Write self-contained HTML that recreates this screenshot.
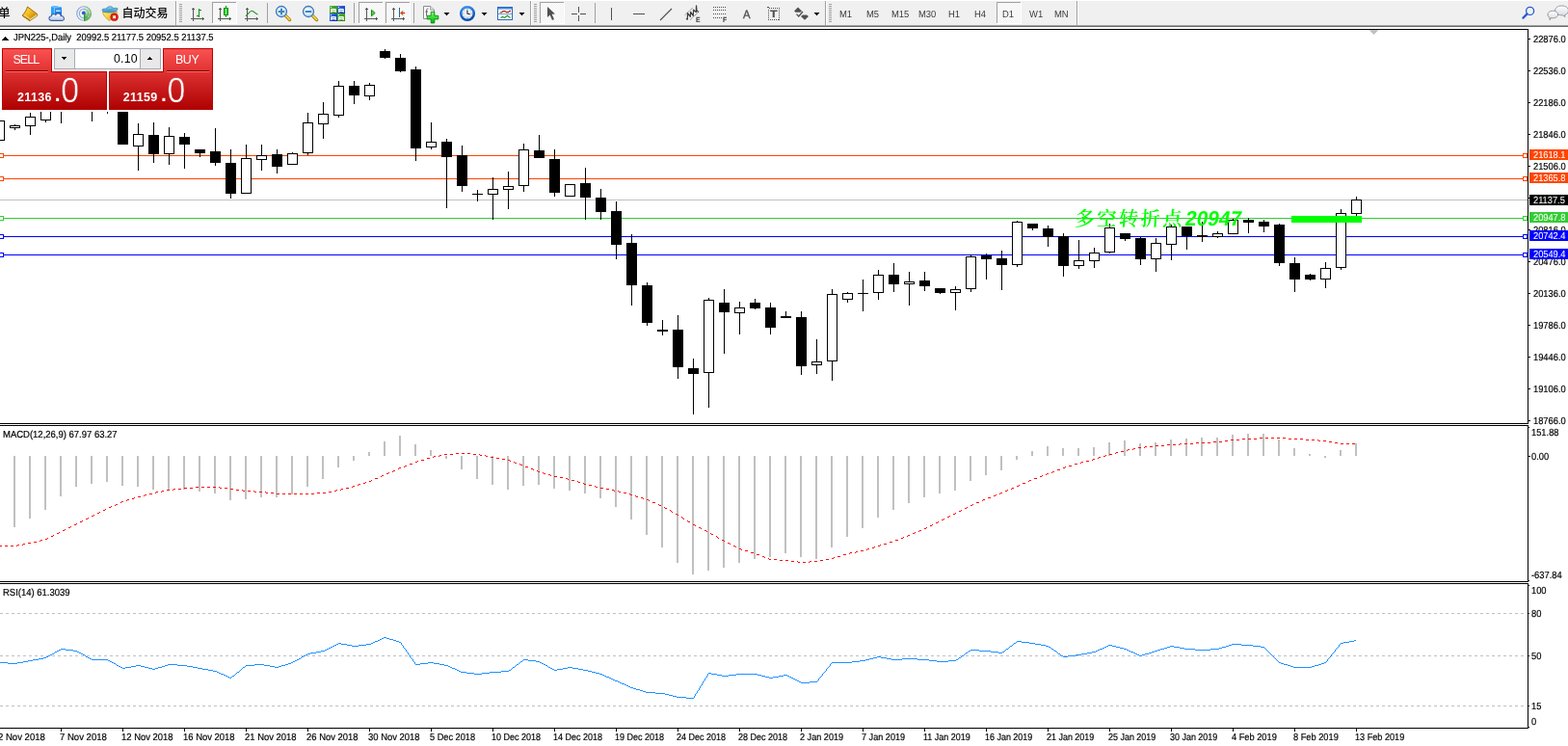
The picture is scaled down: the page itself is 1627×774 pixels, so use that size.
<!DOCTYPE html>
<html lang="zh-CN">
<head>
<meta charset="utf-8">
<title>JPN225-,Daily</title>
<style>
html,body{margin:0;padding:0;background:#fff;overflow:hidden;}
body{width:1627px;height:774px;position:relative;overflow:hidden;font-family:"Liberation Sans","Noto Sans CJK SC",sans-serif;font-size:9.3px;color:#000;}
.chart{position:absolute;left:0;top:0;}
.ax{position:absolute;white-space:nowrap;line-height:11px;font-size:10.2px;text-rendering:geometricPrecision;transform:scaleX(0.915);transform-origin:0 0;-webkit-text-stroke-width:0.2px;}
.ax.dt{transform:scaleX(0.898);}
.ax.t1{transform:scaleX(0.922);}
.ax.t2{transform:scaleX(0.931);}
.pl{position:absolute;left:1587px;width:40px;height:11px;overflow:hidden;}
.pl span{position:absolute;left:4px;top:1px;line-height:11px;font-size:10.2px;color:#fff;white-space:nowrap;text-rendering:geometricPrecision;transform:scaleX(0.91);transform-origin:0 0;-webkit-text-stroke-width:0.05px;}
.note{position:absolute;white-space:nowrap;font-family:"Liberation Sans","Noto Serif CJK SC",serif;font-weight:bold;font-style:italic;font-size:21.5px;line-height:24px;color:#00ff00;}
.note .nc{font-weight:600;font-size:20.4px;letter-spacing:2.35px;font-style:normal;display:inline-block;transform:skewX(-3deg);transform-origin:0 80%;}
.note .nd{font-weight:bold;font-style:normal;display:inline-block;transform:skewX(-10deg) scaleX(0.97);transform-origin:0 80%;margin-left:-0.2px;}
#toolbar{position:absolute;left:0;top:0;width:1627px;height:30px;background:#fff;}
#toolbar .bg{position:absolute;left:0;top:1px;width:1627px;height:25px;background:#f0f0f0;}
#toolbar .l1{position:absolute;left:0;top:26px;width:1627px;height:1px;background:#a0a0a0;}
#toolbar .l2{position:absolute;left:0;top:27px;width:1627px;height:1px;background:#696969;}
#toolbar svg{position:absolute;left:0;top:0;}
.tb{position:absolute;white-space:nowrap;color:#3c3c3c;font-size:10.2px;line-height:11px;top:10px;text-rendering:geometricPrecision;transform:scaleX(0.925);transform-origin:0 0;}
.cn{position:absolute;white-space:nowrap;color:#000;font-size:12px;line-height:14px;top:6.5px;font-weight:500;font-family:"Liberation Sans","Noto Sans CJK SC",sans-serif;}

#panel{position:absolute;left:0;top:0;width:224px;height:118px;}
#panel .pbg{position:absolute;left:0;top:46px;width:222px;height:70px;background:#fff;}
.pt{position:absolute;color:#fff;font-size:12.4px;line-height:14px;letter-spacing:-0.9px;white-space:nowrap;}
.pv{position:absolute;color:#000;font-size:12.3px;line-height:14px;text-align:right;white-space:nowrap;letter-spacing:0.25px;}
.ps{position:absolute;color:#fff;font-size:12.4px;font-weight:bold;line-height:14px;white-space:nowrap;letter-spacing:0.45px;}
.pb{position:absolute;color:#fff;font-size:35.5px;line-height:38px;white-space:nowrap;transform:scaleX(0.93);transform-origin:0 0;text-rendering:geometricPrecision;}
.pd{position:absolute;color:#fff;font-size:30px;line-height:32px;white-space:nowrap;}

</style>
</head>
<body>
<svg class="chart" width="1627" height="774" viewBox="0 0 1627 774" shape-rendering="crispEdges">
<defs><clipPath id="cpMain"><rect x="0" y="31" width="1585" height="408"/></clipPath><clipPath id="cpMacd"><rect x="0" y="442" width="1585" height="161"/></clipPath><clipPath id="cpRsi"><rect x="0" y="606" width="1585" height="149"/></clipPath></defs>
<g clip-path="url(#cpMain)">
<rect x="0" y="207" width="1585" height="1" fill="#c0c0c0"/>
<rect x="0" y="161" width="1585" height="1" fill="#ff4500"/>
<rect x="-0.5" y="159.5" width="4" height="4" fill="#fff" stroke="#ff4500" stroke-width="1"/>
<rect x="1580.5" y="159.5" width="4" height="4" fill="#fff" stroke="#ff4500" stroke-width="1"/>
<rect x="0" y="185" width="1585" height="1" fill="#ff4500"/>
<rect x="-0.5" y="183.5" width="4" height="4" fill="#fff" stroke="#ff4500" stroke-width="1"/>
<rect x="1580.5" y="183.5" width="4" height="4" fill="#fff" stroke="#ff4500" stroke-width="1"/>
<rect x="0" y="226" width="1585" height="1" fill="#32cd32"/>
<rect x="-0.5" y="224.5" width="4" height="4" fill="#fff" stroke="#32cd32" stroke-width="1"/>
<rect x="1580.5" y="224.5" width="4" height="4" fill="#fff" stroke="#32cd32" stroke-width="1"/>
<rect x="0" y="245" width="1585" height="1" fill="#0000ff"/>
<rect x="-0.5" y="243.5" width="4" height="4" fill="#fff" stroke="#0000ff" stroke-width="1"/>
<rect x="1580.5" y="243.5" width="4" height="4" fill="#fff" stroke="#0000ff" stroke-width="1"/>
<rect x="0" y="264" width="1585" height="1" fill="#0000ff"/>
<rect x="-0.5" y="262.5" width="4" height="4" fill="#fff" stroke="#0000ff" stroke-width="1"/>
<rect x="1580.5" y="262.5" width="4" height="4" fill="#fff" stroke="#0000ff" stroke-width="1"/>
<rect x="-1" y="125" width="1" height="21" fill="#000"/>
<rect x="-6" y="125" width="11" height="21" fill="#000"/>
<rect x="-5" y="126" width="9" height="19" fill="#fff"/>
<rect x="15" y="129" width="1" height="6" fill="#000"/>
<rect x="10" y="130" width="11" height="3" fill="#000"/>
<rect x="11" y="131" width="9" height="1" fill="#fff"/>
<rect x="31" y="117" width="1" height="23" fill="#000"/>
<rect x="26" y="121" width="11" height="10" fill="#000"/>
<rect x="27" y="122" width="9" height="8" fill="#fff"/>
<rect x="47" y="100" width="1" height="27" fill="#000"/>
<rect x="42" y="100" width="11" height="25" fill="#000"/>
<rect x="43" y="101" width="9" height="23" fill="#fff"/>
<rect x="63" y="100" width="1" height="28" fill="#000"/>
<rect x="95" y="100" width="1" height="26" fill="#000"/>
<rect x="111" y="100" width="1" height="18" fill="#000"/>
<rect x="127" y="100" width="1" height="50" fill="#000"/>
<rect x="122" y="100" width="11" height="50" fill="#000"/>
<rect x="143" y="128" width="1" height="49" fill="#000"/>
<rect x="138" y="139" width="11" height="13" fill="#000"/>
<rect x="139" y="140" width="9" height="11" fill="#fff"/>
<rect x="159" y="127" width="1" height="42" fill="#000"/>
<rect x="154" y="140" width="11" height="20" fill="#000"/>
<rect x="175" y="132" width="1" height="39" fill="#000"/>
<rect x="170" y="141" width="11" height="19" fill="#000"/>
<rect x="171" y="142" width="9" height="17" fill="#fff"/>
<rect x="191" y="138" width="1" height="37" fill="#000"/>
<rect x="186" y="142" width="11" height="8" fill="#000"/>
<rect x="207" y="155" width="1" height="8" fill="#000"/>
<rect x="202" y="155" width="11" height="4" fill="#000"/>
<rect x="223" y="133" width="1" height="39" fill="#000"/>
<rect x="218" y="157" width="11" height="12" fill="#000"/>
<rect x="239" y="155" width="1" height="51" fill="#000"/>
<rect x="234" y="169" width="11" height="32" fill="#000"/>
<rect x="255" y="150" width="1" height="51" fill="#000"/>
<rect x="250" y="164" width="11" height="37" fill="#000"/>
<rect x="251" y="165" width="9" height="35" fill="#fff"/>
<rect x="271" y="150" width="1" height="27" fill="#000"/>
<rect x="266" y="161" width="11" height="5" fill="#000"/>
<rect x="267" y="162" width="9" height="3" fill="#fff"/>
<rect x="287" y="155" width="1" height="25" fill="#000"/>
<rect x="282" y="160" width="11" height="13" fill="#000"/>
<rect x="303" y="158" width="1" height="12" fill="#000"/>
<rect x="298" y="159" width="11" height="12" fill="#000"/>
<rect x="299" y="160" width="9" height="10" fill="#fff"/>
<rect x="319" y="117" width="1" height="44" fill="#000"/>
<rect x="314" y="127" width="11" height="32" fill="#000"/>
<rect x="315" y="128" width="9" height="30" fill="#fff"/>
<rect x="335" y="106" width="1" height="38" fill="#000"/>
<rect x="330" y="118" width="11" height="11" fill="#000"/>
<rect x="331" y="119" width="9" height="9" fill="#fff"/>
<rect x="351" y="84" width="1" height="38" fill="#000"/>
<rect x="346" y="89" width="11" height="31" fill="#000"/>
<rect x="347" y="90" width="9" height="29" fill="#fff"/>
<rect x="367" y="84" width="1" height="24" fill="#000"/>
<rect x="362" y="89" width="11" height="10" fill="#000"/>
<rect x="383" y="86" width="1" height="18" fill="#000"/>
<rect x="378" y="88" width="11" height="12" fill="#000"/>
<rect x="379" y="89" width="9" height="10" fill="#fff"/>
<rect x="399" y="51" width="1" height="10" fill="#000"/>
<rect x="394" y="53" width="11" height="7" fill="#000"/>
<rect x="415" y="56" width="1" height="19" fill="#000"/>
<rect x="410" y="60" width="11" height="14" fill="#000"/>
<rect x="431" y="69" width="1" height="98" fill="#000"/>
<rect x="426" y="72" width="11" height="82" fill="#000"/>
<rect x="447" y="127" width="1" height="28" fill="#000"/>
<rect x="442" y="147" width="11" height="6" fill="#000"/>
<rect x="443" y="148" width="9" height="4" fill="#fff"/>
<rect x="463" y="144" width="1" height="72" fill="#000"/>
<rect x="458" y="147" width="11" height="16" fill="#000"/>
<rect x="479" y="151" width="1" height="48" fill="#000"/>
<rect x="474" y="161" width="11" height="32" fill="#000"/>
<rect x="495" y="197" width="1" height="12" fill="#000"/>
<rect x="490" y="201" width="11" height="1" fill="#000"/>
<rect x="511" y="184" width="1" height="44" fill="#000"/>
<rect x="506" y="196" width="11" height="6" fill="#000"/>
<rect x="507" y="197" width="9" height="4" fill="#fff"/>
<rect x="527" y="178" width="1" height="39" fill="#000"/>
<rect x="522" y="193" width="11" height="4" fill="#000"/>
<rect x="523" y="194" width="9" height="2" fill="#fff"/>
<rect x="543" y="149" width="1" height="50" fill="#000"/>
<rect x="538" y="155" width="11" height="38" fill="#000"/>
<rect x="539" y="156" width="9" height="36" fill="#fff"/>
<rect x="559" y="140" width="1" height="24" fill="#000"/>
<rect x="554" y="156" width="11" height="8" fill="#000"/>
<rect x="575" y="155" width="1" height="49" fill="#000"/>
<rect x="570" y="165" width="11" height="35" fill="#000"/>
<rect x="591" y="191" width="1" height="13" fill="#000"/>
<rect x="586" y="191" width="11" height="13" fill="#000"/>
<rect x="587" y="192" width="9" height="11" fill="#fff"/>
<rect x="607" y="174" width="1" height="54" fill="#000"/>
<rect x="602" y="190" width="11" height="15" fill="#000"/>
<rect x="623" y="196" width="1" height="32" fill="#000"/>
<rect x="618" y="205" width="11" height="15" fill="#000"/>
<rect x="639" y="209" width="1" height="60" fill="#000"/>
<rect x="634" y="219" width="11" height="35" fill="#000"/>
<rect x="655" y="243" width="1" height="74" fill="#000"/>
<rect x="650" y="252" width="11" height="44" fill="#000"/>
<rect x="671" y="293" width="1" height="45" fill="#000"/>
<rect x="666" y="296" width="11" height="39" fill="#000"/>
<rect x="687" y="332" width="1" height="16" fill="#000"/>
<rect x="682" y="342" width="11" height="2" fill="#000"/>
<rect x="703" y="327" width="1" height="66" fill="#000"/>
<rect x="698" y="342" width="11" height="39" fill="#000"/>
<rect x="719" y="372" width="1" height="58" fill="#000"/>
<rect x="714" y="382" width="11" height="6" fill="#000"/>
<rect x="735" y="309" width="1" height="114" fill="#000"/>
<rect x="730" y="311" width="11" height="76" fill="#000"/>
<rect x="731" y="312" width="9" height="74" fill="#fff"/>
<rect x="751" y="300" width="1" height="67" fill="#000"/>
<rect x="746" y="314" width="11" height="10" fill="#000"/>
<rect x="767" y="313" width="1" height="34" fill="#000"/>
<rect x="762" y="319" width="11" height="6" fill="#000"/>
<rect x="763" y="320" width="9" height="4" fill="#fff"/>
<rect x="783" y="310" width="1" height="11" fill="#000"/>
<rect x="778" y="314" width="11" height="6" fill="#000"/>
<rect x="799" y="314" width="1" height="33" fill="#000"/>
<rect x="794" y="319" width="11" height="21" fill="#000"/>
<rect x="815" y="323" width="1" height="7" fill="#000"/>
<rect x="810" y="328" width="11" height="2" fill="#000"/>
<rect x="831" y="323" width="1" height="66" fill="#000"/>
<rect x="826" y="329" width="11" height="51" fill="#000"/>
<rect x="847" y="352" width="1" height="36" fill="#000"/>
<rect x="842" y="375" width="11" height="4" fill="#000"/>
<rect x="843" y="376" width="9" height="2" fill="#fff"/>
<rect x="863" y="300" width="1" height="95" fill="#000"/>
<rect x="858" y="305" width="11" height="70" fill="#000"/>
<rect x="859" y="306" width="9" height="68" fill="#fff"/>
<rect x="879" y="303" width="1" height="11" fill="#000"/>
<rect x="874" y="304" width="11" height="7" fill="#000"/>
<rect x="875" y="305" width="9" height="5" fill="#fff"/>
<rect x="895" y="290" width="1" height="33" fill="#000"/>
<rect x="890" y="304" width="11" height="1" fill="#000"/>
<rect x="911" y="280" width="1" height="31" fill="#000"/>
<rect x="906" y="285" width="11" height="19" fill="#000"/>
<rect x="907" y="286" width="9" height="17" fill="#fff"/>
<rect x="927" y="273" width="1" height="30" fill="#000"/>
<rect x="922" y="285" width="11" height="10" fill="#000"/>
<rect x="943" y="282" width="1" height="35" fill="#000"/>
<rect x="938" y="292" width="11" height="3" fill="#000"/>
<rect x="939" y="293" width="9" height="1" fill="#fff"/>
<rect x="959" y="282" width="1" height="20" fill="#000"/>
<rect x="954" y="291" width="11" height="6" fill="#000"/>
<rect x="975" y="299" width="1" height="6" fill="#000"/>
<rect x="970" y="299" width="11" height="5" fill="#000"/>
<rect x="991" y="297" width="1" height="25" fill="#000"/>
<rect x="986" y="300" width="11" height="4" fill="#000"/>
<rect x="987" y="301" width="9" height="2" fill="#fff"/>
<rect x="1007" y="264" width="1" height="39" fill="#000"/>
<rect x="1002" y="266" width="11" height="34" fill="#000"/>
<rect x="1003" y="267" width="9" height="32" fill="#fff"/>
<rect x="1023" y="263" width="1" height="27" fill="#000"/>
<rect x="1018" y="265" width="11" height="4" fill="#000"/>
<rect x="1039" y="260" width="1" height="41" fill="#000"/>
<rect x="1034" y="268" width="11" height="7" fill="#000"/>
<rect x="1055" y="229" width="1" height="48" fill="#000"/>
<rect x="1050" y="230" width="11" height="45" fill="#000"/>
<rect x="1051" y="231" width="9" height="43" fill="#fff"/>
<rect x="1071" y="232" width="1" height="7" fill="#000"/>
<rect x="1066" y="232" width="11" height="5" fill="#000"/>
<rect x="1087" y="234" width="1" height="22" fill="#000"/>
<rect x="1082" y="237" width="11" height="9" fill="#000"/>
<rect x="1103" y="242" width="1" height="45" fill="#000"/>
<rect x="1098" y="245" width="11" height="31" fill="#000"/>
<rect x="1119" y="249" width="1" height="30" fill="#000"/>
<rect x="1114" y="270" width="11" height="6" fill="#000"/>
<rect x="1115" y="271" width="9" height="4" fill="#fff"/>
<rect x="1135" y="257" width="1" height="21" fill="#000"/>
<rect x="1130" y="262" width="11" height="9" fill="#000"/>
<rect x="1131" y="263" width="9" height="7" fill="#fff"/>
<rect x="1151" y="232" width="1" height="31" fill="#000"/>
<rect x="1146" y="236" width="11" height="26" fill="#000"/>
<rect x="1147" y="237" width="9" height="24" fill="#fff"/>
<rect x="1167" y="242" width="1" height="8" fill="#000"/>
<rect x="1162" y="242" width="11" height="6" fill="#000"/>
<rect x="1183" y="246" width="1" height="29" fill="#000"/>
<rect x="1178" y="247" width="11" height="22" fill="#000"/>
<rect x="1199" y="247" width="1" height="35" fill="#000"/>
<rect x="1194" y="252" width="11" height="17" fill="#000"/>
<rect x="1195" y="253" width="9" height="15" fill="#fff"/>
<rect x="1215" y="233" width="1" height="37" fill="#000"/>
<rect x="1210" y="235" width="11" height="19" fill="#000"/>
<rect x="1211" y="236" width="9" height="17" fill="#fff"/>
<rect x="1231" y="235" width="1" height="24" fill="#000"/>
<rect x="1226" y="235" width="11" height="10" fill="#000"/>
<rect x="1247" y="230" width="1" height="21" fill="#000"/>
<rect x="1242" y="244" width="11" height="2" fill="#000"/>
<rect x="1263" y="240" width="1" height="7" fill="#000"/>
<rect x="1258" y="242" width="11" height="4" fill="#000"/>
<rect x="1259" y="243" width="9" height="2" fill="#fff"/>
<rect x="1279" y="227" width="1" height="15" fill="#000"/>
<rect x="1274" y="228" width="11" height="15" fill="#000"/>
<rect x="1275" y="229" width="9" height="13" fill="#fff"/>
<rect x="1295" y="226" width="1" height="16" fill="#000"/>
<rect x="1290" y="228" width="11" height="3" fill="#000"/>
<rect x="1311" y="228" width="1" height="13" fill="#000"/>
<rect x="1306" y="230" width="11" height="5" fill="#000"/>
<rect x="1327" y="232" width="1" height="44" fill="#000"/>
<rect x="1322" y="233" width="11" height="40" fill="#000"/>
<rect x="1343" y="267" width="1" height="36" fill="#000"/>
<rect x="1338" y="273" width="11" height="17" fill="#000"/>
<rect x="1359" y="284" width="1" height="7" fill="#000"/>
<rect x="1354" y="285" width="11" height="5" fill="#000"/>
<rect x="1375" y="272" width="1" height="27" fill="#000"/>
<rect x="1370" y="278" width="11" height="12" fill="#000"/>
<rect x="1371" y="279" width="9" height="10" fill="#fff"/>
<rect x="1391" y="217" width="1" height="63" fill="#000"/>
<rect x="1386" y="221" width="11" height="57" fill="#000"/>
<rect x="1387" y="222" width="9" height="55" fill="#fff"/>
<rect x="1407" y="204" width="1" height="20" fill="#000"/>
<rect x="1402" y="207" width="11" height="15" fill="#000"/>
<rect x="1403" y="208" width="9" height="13" fill="#fff"/>
<rect x="1340" y="224" width="73" height="7" fill="#00ff00"/>
<path d="M1420.5 31 L1430.5 31 L1425.5 36 Z" fill="#c0c0c0" shape-rendering="auto"/>
</g>
<g clip-path="url(#cpMacd)">
<rect x="14" y="473" width="2" height="74" fill="#c0c0c0"/>
<rect x="30" y="473" width="2" height="65" fill="#c0c0c0"/>
<rect x="46" y="473" width="2" height="56" fill="#c0c0c0"/>
<rect x="62" y="473" width="2" height="42" fill="#c0c0c0"/>
<rect x="78" y="473" width="2" height="32" fill="#c0c0c0"/>
<rect x="94" y="473" width="2" height="29" fill="#c0c0c0"/>
<rect x="110" y="473" width="2" height="27" fill="#c0c0c0"/>
<rect x="126" y="473" width="2" height="31" fill="#c0c0c0"/>
<rect x="142" y="473" width="2" height="32" fill="#c0c0c0"/>
<rect x="158" y="473" width="2" height="35" fill="#c0c0c0"/>
<rect x="174" y="473" width="2" height="35" fill="#c0c0c0"/>
<rect x="190" y="473" width="2" height="35" fill="#c0c0c0"/>
<rect x="206" y="473" width="2" height="37" fill="#c0c0c0"/>
<rect x="222" y="473" width="2" height="39" fill="#c0c0c0"/>
<rect x="238" y="473" width="2" height="46" fill="#c0c0c0"/>
<rect x="254" y="473" width="2" height="45" fill="#c0c0c0"/>
<rect x="270" y="473" width="2" height="43" fill="#c0c0c0"/>
<rect x="286" y="473" width="2" height="43" fill="#c0c0c0"/>
<rect x="302" y="473" width="2" height="40" fill="#c0c0c0"/>
<rect x="318" y="473" width="2" height="32" fill="#c0c0c0"/>
<rect x="334" y="473" width="2" height="24" fill="#c0c0c0"/>
<rect x="350" y="473" width="2" height="12" fill="#c0c0c0"/>
<rect x="366" y="473" width="2" height="5" fill="#c0c0c0"/>
<rect x="382" y="469" width="2" height="4" fill="#c0c0c0"/>
<rect x="398" y="458" width="2" height="15" fill="#c0c0c0"/>
<rect x="414" y="452" width="2" height="21" fill="#c0c0c0"/>
<rect x="430" y="461" width="2" height="12" fill="#c0c0c0"/>
<rect x="446" y="467" width="2" height="6" fill="#c0c0c0"/>
<rect x="462" y="473" width="2" height="3" fill="#c0c0c0"/>
<rect x="478" y="473" width="2" height="14" fill="#c0c0c0"/>
<rect x="494" y="473" width="2" height="24" fill="#c0c0c0"/>
<rect x="510" y="473" width="2" height="30" fill="#c0c0c0"/>
<rect x="526" y="473" width="2" height="35" fill="#c0c0c0"/>
<rect x="542" y="473" width="2" height="31" fill="#c0c0c0"/>
<rect x="558" y="473" width="2" height="30" fill="#c0c0c0"/>
<rect x="574" y="473" width="2" height="34" fill="#c0c0c0"/>
<rect x="590" y="473" width="2" height="36" fill="#c0c0c0"/>
<rect x="606" y="473" width="2" height="39" fill="#c0c0c0"/>
<rect x="622" y="473" width="2" height="44" fill="#c0c0c0"/>
<rect x="638" y="473" width="2" height="53" fill="#c0c0c0"/>
<rect x="654" y="473" width="2" height="66" fill="#c0c0c0"/>
<rect x="670" y="473" width="2" height="82" fill="#c0c0c0"/>
<rect x="686" y="473" width="2" height="95" fill="#c0c0c0"/>
<rect x="702" y="473" width="2" height="111" fill="#c0c0c0"/>
<rect x="718" y="473" width="2" height="123" fill="#c0c0c0"/>
<rect x="734" y="473" width="2" height="119" fill="#c0c0c0"/>
<rect x="750" y="473" width="2" height="116" fill="#c0c0c0"/>
<rect x="766" y="473" width="2" height="111" fill="#c0c0c0"/>
<rect x="782" y="473" width="2" height="107" fill="#c0c0c0"/>
<rect x="798" y="473" width="2" height="105" fill="#c0c0c0"/>
<rect x="814" y="473" width="2" height="101" fill="#c0c0c0"/>
<rect x="830" y="473" width="2" height="105" fill="#c0c0c0"/>
<rect x="846" y="473" width="2" height="107" fill="#c0c0c0"/>
<rect x="862" y="473" width="2" height="95" fill="#c0c0c0"/>
<rect x="878" y="473" width="2" height="84" fill="#c0c0c0"/>
<rect x="894" y="473" width="2" height="75" fill="#c0c0c0"/>
<rect x="910" y="473" width="2" height="64" fill="#c0c0c0"/>
<rect x="926" y="473" width="2" height="56" fill="#c0c0c0"/>
<rect x="942" y="473" width="2" height="49" fill="#c0c0c0"/>
<rect x="958" y="473" width="2" height="43" fill="#c0c0c0"/>
<rect x="974" y="473" width="2" height="39" fill="#c0c0c0"/>
<rect x="990" y="473" width="2" height="36" fill="#c0c0c0"/>
<rect x="1006" y="473" width="2" height="26" fill="#c0c0c0"/>
<rect x="1022" y="473" width="2" height="20" fill="#c0c0c0"/>
<rect x="1038" y="473" width="2" height="15" fill="#c0c0c0"/>
<rect x="1054" y="473" width="2" height="4" fill="#c0c0c0"/>
<rect x="1070" y="468" width="2" height="5" fill="#c0c0c0"/>
<rect x="1086" y="463" width="2" height="10" fill="#c0c0c0"/>
<rect x="1102" y="465" width="2" height="8" fill="#c0c0c0"/>
<rect x="1118" y="465" width="2" height="8" fill="#c0c0c0"/>
<rect x="1134" y="464" width="2" height="9" fill="#c0c0c0"/>
<rect x="1150" y="459" width="2" height="14" fill="#c0c0c0"/>
<rect x="1166" y="457" width="2" height="16" fill="#c0c0c0"/>
<rect x="1182" y="460" width="2" height="13" fill="#c0c0c0"/>
<rect x="1198" y="459" width="2" height="14" fill="#c0c0c0"/>
<rect x="1214" y="456" width="2" height="17" fill="#c0c0c0"/>
<rect x="1230" y="455" width="2" height="18" fill="#c0c0c0"/>
<rect x="1246" y="454" width="2" height="19" fill="#c0c0c0"/>
<rect x="1262" y="454" width="2" height="19" fill="#c0c0c0"/>
<rect x="1278" y="451" width="2" height="22" fill="#c0c0c0"/>
<rect x="1294" y="450" width="2" height="23" fill="#c0c0c0"/>
<rect x="1310" y="450" width="2" height="23" fill="#c0c0c0"/>
<rect x="1326" y="456" width="2" height="17" fill="#c0c0c0"/>
<rect x="1342" y="465" width="2" height="8" fill="#c0c0c0"/>
<rect x="1358" y="471" width="2" height="2" fill="#c0c0c0"/>
<rect x="1374" y="473" width="2" height="2" fill="#c0c0c0"/>
<rect x="1390" y="467" width="2" height="6" fill="#c0c0c0"/>
<rect x="1406" y="460" width="2" height="13" fill="#c0c0c0"/>
<path d="M1307 454h3v1h-3zM1313 454h3v1h-3zM1319 454h3v1h-3zM1325 454h3v1h-3zM1331 454h3v1h-3zM1289 455h3v1h-3zM1295 455h3v1h-3zM1301 455h3v1h-3zM1337 455h3v1h-3zM1343 455h3v1h-3zM1349 455h3v1h-3zM1277 456h3v1h-3zM1283 456h3v1h-3zM1355 456h3v1h-3zM1361 456h3v1h-3zM1367 456h1v1h-1zM1271 457h3v1h-3zM1368 457h2v1h-2zM1373 457h3v1h-3zM1259 458h3v1h-3zM1265 458h3v1h-3zM1379 458h3v1h-3zM1241 459h3v1h-3zM1247 459h3v1h-3zM1253 459h3v1h-3zM1385 459h3v1h-3zM1224 460h2v1h-2zM1229 460h3v1h-3zM1235 460h3v1h-3zM1391 460h3v1h-3zM1397 460h3v1h-3zM1403 460h3v1h-3zM1211 461h3v1h-3zM1217 461h3v1h-3zM1223 461h1v1h-1zM1199 462h3v1h-3zM1205 462h3v1h-3zM1188 463h2v1h-2zM1193 463h3v1h-3zM1181 464h3v1h-3zM1187 464h1v1h-1zM1176 465h2v1h-2zM1170 466h2v1h-2zM1175 466h1v1h-1zM1169 467h1v1h-1zM1163 468h3v1h-3zM1158 469h2v1h-2zM473 470h3v1h-3zM479 470h3v1h-3zM485 470h3v1h-3zM1157 470h1v1h-1zM461 471h3v1h-3zM467 471h3v1h-3zM491 471h3v1h-3zM497 471h1v1h-1zM1151 471h3v1h-3zM456 472h2v1h-2zM498 472h2v1h-2zM503 472h1v1h-1zM1147 472h1v1h-1zM450 473h2v1h-2zM455 473h1v1h-1zM504 473h2v1h-2zM1145 473h2v1h-2zM449 474h1v1h-1zM509 474h3v1h-3zM1140 474h2v1h-2zM443 475h3v1h-3zM515 475h3v1h-3zM1139 475h1v1h-1zM521 476h3v1h-3zM1134 476h2v1h-2zM437 477h3v1h-3zM527 477h2v1h-2zM1133 477h1v1h-1zM433 478h1v1h-1zM529 478h1v1h-1zM1127 478h3v1h-3zM431 479h2v1h-2zM533 479h1v1h-1zM1122 479h2v1h-2zM534 480h2v1h-2zM1121 480h1v1h-1zM425 481h3v1h-3zM539 481h1v1h-1zM1115 481h3v1h-3zM540 482h2v1h-2zM420 483h2v1h-2zM1109 483h3v1h-3zM419 484h1v1h-1zM545 484h3v1h-3zM1105 484h1v1h-1zM414 485h2v1h-2zM1103 485h2v1h-2zM413 486h1v1h-1zM551 486h2v1h-2zM553 487h1v1h-1zM1097 487h3v1h-3zM408 488h2v1h-2zM557 488h1v1h-1zM407 489h1v1h-1zM558 489h2v1h-2zM1092 489h2v1h-2zM403 490h1v1h-1zM563 490h1v1h-1zM1091 490h1v1h-1zM401 491h2v1h-2zM564 491h2v1h-2zM1086 491h2v1h-2zM569 492h2v1h-2zM1085 492h1v1h-1zM396 493h2v1h-2zM571 493h1v1h-1zM1081 493h1v1h-1zM395 494h1v1h-1zM575 494h3v1h-3zM1079 494h2v1h-2zM581 495h3v1h-3zM389 496h3v1h-3zM587 496h2v1h-2zM1073 496h3v1h-3zM589 497h1v1h-1zM385 498h1v1h-1zM593 498h3v1h-3zM1068 498h2v1h-2zM383 499h2v1h-2zM599 499h1v1h-1zM1067 499h1v1h-1zM379 500h1v1h-1zM600 500h2v1h-2zM377 501h2v1h-2zM605 501h1v1h-1zM1061 501h3v1h-3zM372 502h2v1h-2zM606 502h2v1h-2zM371 503h1v1h-1zM611 503h3v1h-3zM1057 503h1v1h-1zM366 504h2v1h-2zM617 504h1v1h-1zM1055 504h2v1h-2zM203 505h3v1h-3zM209 505h3v1h-3zM215 505h3v1h-3zM221 505h3v1h-3zM227 505h1v1h-1zM365 505h1v1h-1zM618 505h2v1h-2zM191 506h3v1h-3zM197 506h3v1h-3zM228 506h2v1h-2zM233 506h3v1h-3zM359 506h3v1h-3zM623 506h3v1h-3zM1050 506h2v1h-2zM180 507h2v1h-2zM185 507h3v1h-3zM239 507h3v1h-3zM354 507h2v1h-2zM629 507h3v1h-3zM1049 507h1v1h-1zM173 508h3v1h-3zM179 508h1v1h-1zM245 508h3v1h-3zM251 508h1v1h-1zM349 508h1v1h-1zM353 508h1v1h-1zM635 508h2v1h-2zM1045 508h1v1h-1zM168 509h2v1h-2zM252 509h2v1h-2zM257 509h3v1h-3zM263 509h1v1h-1zM347 509h2v1h-2zM637 509h1v1h-1zM641 509h1v1h-1zM1043 509h2v1h-2zM162 510h2v1h-2zM167 510h1v1h-1zM264 510h2v1h-2zM269 510h3v1h-3zM275 510h1v1h-1zM341 510h3v1h-3zM642 510h2v1h-2zM161 511h1v1h-1zM276 511h2v1h-2zM281 511h3v1h-3zM329 511h3v1h-3zM335 511h3v1h-3zM647 511h3v1h-3zM1038 511h2v1h-2zM155 512h3v1h-3zM287 512h3v1h-3zM293 512h3v1h-3zM299 512h3v1h-3zM305 512h3v1h-3zM311 512h3v1h-3zM317 512h3v1h-3zM323 512h3v1h-3zM653 512h1v1h-1zM1037 512h1v1h-1zM150 513h2v1h-2zM654 513h2v1h-2zM1033 513h1v1h-1zM149 514h1v1h-1zM659 514h1v1h-1zM1031 514h2v1h-2zM143 515h3v1h-3zM660 515h2v1h-2zM139 516h1v1h-1zM665 516h2v1h-2zM1025 516h3v1h-3zM137 517h2v1h-2zM667 517h1v1h-1zM132 518h2v1h-2zM671 518h2v1h-2zM1020 518h2v1h-2zM131 519h1v1h-1zM673 519h1v1h-1zM1019 519h1v1h-1zM126 520h2v1h-2zM125 521h1v1h-1zM677 521h3v1h-3zM1013 521h3v1h-3zM120 523h2v1h-2zM683 523h1v1h-1zM1009 523h1v1h-1zM119 524h1v1h-1zM684 524h2v1h-2zM1007 524h2v1h-2zM115 525h1v1h-1zM113 526h2v1h-2zM689 526h1v1h-1zM1003 526h1v1h-1zM690 527h2v1h-2zM1001 527h2v1h-2zM109 528h1v1h-1zM107 529h2v1h-2zM695 529h1v1h-1zM997 529h1v1h-1zM696 530h1v1h-1zM995 530h2v1h-2zM103 531h1v1h-1zM697 531h1v1h-1zM101 532h2v1h-2zM991 532h1v1h-1zM701 533h2v1h-2zM989 533h2v1h-2zM97 534h1v1h-1zM703 534h1v1h-1zM95 535h2v1h-2zM985 535h1v1h-1zM707 536h1v1h-1zM983 536h2v1h-2zM91 537h1v1h-1zM708 537h1v1h-1zM89 538h2v1h-2zM709 538h1v1h-1zM979 538h1v1h-1zM977 539h2v1h-2zM85 540h1v1h-1zM713 540h1v1h-1zM83 541h2v1h-2zM714 541h2v1h-2zM973 541h1v1h-1zM971 542h2v1h-2zM79 543h1v1h-1zM77 544h2v1h-2zM719 544h2v1h-2zM967 544h1v1h-1zM721 545h1v1h-1zM965 545h2v1h-2zM73 546h1v1h-1zM71 547h2v1h-2zM725 547h2v1h-2zM961 547h1v1h-1zM727 548h1v1h-1zM959 548h2v1h-2zM67 549h1v1h-1zM65 550h2v1h-2zM731 550h2v1h-2zM954 550h2v1h-2zM733 551h1v1h-1zM953 551h1v1h-1zM61 552h1v1h-1zM949 552h1v1h-1zM59 553h2v1h-2zM737 553h1v1h-1zM947 553h2v1h-2zM738 554h2v1h-2zM55 555h1v1h-1zM942 555h2v1h-2zM53 556h2v1h-2zM743 556h1v1h-1zM941 556h1v1h-1zM744 557h1v1h-1zM937 557h1v1h-1zM49 558h1v1h-1zM745 558h1v1h-1zM935 558h2v1h-2zM47 559h2v1h-2zM42 560h2v1h-2zM749 560h2v1h-2zM929 560h3v1h-3zM41 561h1v1h-1zM751 561h1v1h-1zM35 562h3v1h-3zM923 562h3v1h-3zM29 563h3v1h-3zM755 563h2v1h-2zM24 564h2v1h-2zM757 564h1v1h-1zM917 564h3v1h-3zM18 565h2v1h-2zM23 565h1v1h-1zM913 565h1v1h-1zM0 566h2v1h-2zM5 566h3v1h-3zM11 566h3v1h-3zM17 566h1v1h-1zM761 566h2v1h-2zM911 566h2v1h-2zM763 567h1v1h-1zM907 567h1v1h-1zM905 568h2v1h-2zM767 569h2v1h-2zM900 569h2v1h-2zM769 570h1v1h-1zM899 570h1v1h-1zM773 571h3v1h-3zM893 571h3v1h-3zM888 572h2v1h-2zM779 573h3v1h-3zM882 573h2v1h-2zM887 573h1v1h-1zM881 574h1v1h-1zM785 575h3v1h-3zM875 575h3v1h-3zM791 577h2v1h-2zM869 577h3v1h-3zM793 578h1v1h-1zM865 578h1v1h-1zM797 579h1v1h-1zM863 579h2v1h-2zM798 580h2v1h-2zM803 580h3v1h-3zM857 580h3v1h-3zM809 581h3v1h-3zM815 581h3v1h-3zM851 581h3v1h-3zM821 582h3v1h-3zM827 582h1v1h-1zM840 582h2v1h-2zM845 582h3v1h-3zM828 583h2v1h-2zM833 583h3v1h-3zM839 583h1v1h-1z" fill="#ff0000"/>
</g>
<g clip-path="url(#cpRsi)">
<line x1="0" y1="636.5" x2="1585" y2="636.5" stroke="#c0c0c0" stroke-width="1" stroke-dasharray="3 3"/>
<line x1="0" y1="680.5" x2="1585" y2="680.5" stroke="#c0c0c0" stroke-width="1" stroke-dasharray="3 3"/>
<line x1="0" y1="732.5" x2="1585" y2="732.5" stroke="#c0c0c0" stroke-width="1" stroke-dasharray="3 3"/>
<path d="M398 661h3v1h-3zM396 662h2v1h-2zM401 662h3v1h-3zM394 663h2v1h-2zM404 663h4v1h-4zM392 664h2v1h-2zM408 664h3v1h-3zM1405 664h2v1h-2zM389 665h3v1h-3zM411 665h3v1h-3zM1055 665h5v1h-5zM1400 665h5v1h-5zM387 666h2v1h-2zM414 666h2v1h-2zM1054 666h1v1h-1zM1060 666h8v1h-8zM1394 666h6v1h-6zM351 667h3v1h-3zM385 667h2v1h-2zM416 667h1v1h-1zM1052 667h2v1h-2zM1068 667h6v1h-6zM1391 667h3v1h-3zM349 668h2v1h-2zM354 668h6v1h-6zM380 668h5v1h-5zM416 668h1v1h-1zM1051 668h1v1h-1zM1074 668h6v1h-6zM1278 668h10v1h-10zM1390 668h1v1h-1zM347 669h2v1h-2zM360 669h5v1h-5zM372 669h8v1h-8zM417 669h1v1h-1zM1050 669h1v1h-1zM1080 669h5v1h-5zM1150 669h4v1h-4zM1275 669h3v1h-3zM1288 669h12v1h-12zM1389 669h1v1h-1zM345 670h2v1h-2zM365 670h7v1h-7zM418 670h1v1h-1zM1048 670h2v1h-2zM1085 670h3v1h-3zM1148 670h2v1h-2zM1154 670h4v1h-4zM1214 670h4v1h-4zM1272 670h3v1h-3zM1300 670h8v1h-8zM1389 670h1v1h-1zM343 671h2v1h-2zM418 671h1v1h-1zM1047 671h1v1h-1zM1088 671h2v1h-2zM1146 671h2v1h-2zM1158 671h4v1h-4zM1211 671h3v1h-3zM1218 671h6v1h-6zM1268 671h4v1h-4zM1308 671h4v1h-4zM1388 671h1v1h-1zM341 672h2v1h-2zM419 672h1v1h-1zM1046 672h1v1h-1zM1090 672h1v1h-1zM1144 672h2v1h-2zM1162 672h4v1h-4zM1208 672h3v1h-3zM1224 672h5v1h-5zM1265 672h3v1h-3zM1312 672h1v1h-1zM1387 672h1v1h-1zM63 673h5v1h-5zM339 673h2v1h-2zM420 673h1v1h-1zM1044 673h2v1h-2zM1091 673h2v1h-2zM1141 673h3v1h-3zM1166 673h3v1h-3zM1204 673h4v1h-4zM1229 673h11v1h-11zM1256 673h9v1h-9zM1313 673h1v1h-1zM1386 673h1v1h-1zM61 674h2v1h-2zM68 674h8v1h-8zM337 674h2v1h-2zM421 674h1v1h-1zM1007 674h9v1h-9zM1043 674h1v1h-1zM1093 674h1v1h-1zM1139 674h2v1h-2zM1169 674h2v1h-2zM1201 674h3v1h-3zM1240 674h16v1h-16zM1314 674h1v1h-1zM1385 674h1v1h-1zM59 675h2v1h-2zM76 675h4v1h-4zM333 675h4v1h-4zM421 675h1v1h-1zM1005 675h2v1h-2zM1016 675h12v1h-12zM1042 675h1v1h-1zM1094 675h2v1h-2zM1137 675h2v1h-2zM1171 675h2v1h-2zM1198 675h3v1h-3zM1315 675h1v1h-1zM1385 675h1v1h-1zM57 676h2v1h-2zM80 676h2v1h-2zM328 676h5v1h-5zM422 676h1v1h-1zM1004 676h1v1h-1zM1028 676h8v1h-8zM1040 676h2v1h-2zM1096 676h1v1h-1zM1133 676h4v1h-4zM1173 676h3v1h-3zM1195 676h3v1h-3zM1316 676h1v1h-1zM1384 676h1v1h-1zM56 677h1v1h-1zM82 677h2v1h-2zM322 677h6v1h-6zM423 677h1v1h-1zM1002 677h2v1h-2zM1036 677h4v1h-4zM1097 677h1v1h-1zM1128 677h5v1h-5zM1176 677h2v1h-2zM1192 677h3v1h-3zM1317 677h1v1h-1zM1383 677h1v1h-1zM54 678h2v1h-2zM84 678h2v1h-2zM319 678h3v1h-3zM423 678h1v1h-1zM1001 678h1v1h-1zM1098 678h2v1h-2zM1122 678h6v1h-6zM1178 678h2v1h-2zM1188 678h4v1h-4zM1318 678h1v1h-1zM1382 678h1v1h-1zM52 679h2v1h-2zM86 679h2v1h-2zM317 679h2v1h-2zM424 679h1v1h-1zM1000 679h1v1h-1zM1100 679h1v1h-1zM1116 679h6v1h-6zM1180 679h2v1h-2zM1185 679h3v1h-3zM1319 679h1v1h-1zM1381 679h1v1h-1zM50 680h2v1h-2zM88 680h1v1h-1zM315 680h2v1h-2zM425 680h1v1h-1zM998 680h2v1h-2zM1101 680h2v1h-2zM1108 680h8v1h-8zM1182 680h3v1h-3zM1320 680h1v1h-1zM1381 680h1v1h-1zM48 681h2v1h-2zM89 681h2v1h-2zM313 681h2v1h-2zM425 681h1v1h-1zM910 681h4v1h-4zM997 681h1v1h-1zM1103 681h5v1h-5zM1321 681h1v1h-1zM1380 681h1v1h-1zM45 682h3v1h-3zM91 682h2v1h-2zM312 682h1v1h-1zM426 682h1v1h-1zM906 682h4v1h-4zM914 682h6v1h-6zM995 682h2v1h-2zM1322 682h1v1h-1zM1379 682h1v1h-1zM40 683h5v1h-5zM93 683h2v1h-2zM310 683h2v1h-2zM427 683h1v1h-1zM902 683h4v1h-4zM920 683h5v1h-5zM936 683h16v1h-16zM994 683h1v1h-1zM1323 683h1v1h-1zM1378 683h1v1h-1zM34 684h6v1h-6zM95 684h17v1h-17zM308 684h2v1h-2zM428 684h1v1h-1zM543 684h5v1h-5zM898 684h4v1h-4zM925 684h11v1h-11zM952 684h12v1h-12zM992 684h2v1h-2zM1324 684h1v1h-1zM1377 684h1v1h-1zM29 685h5v1h-5zM112 685h2v1h-2zM306 685h2v1h-2zM428 685h1v1h-1zM542 685h1v1h-1zM548 685h8v1h-8zM892 685h6v1h-6zM964 685h8v1h-8zM984 685h8v1h-8zM1325 685h1v1h-1zM1377 685h1v1h-1zM24 686h5v1h-5zM114 686h2v1h-2zM304 686h2v1h-2zM429 686h1v1h-1zM540 686h2v1h-2zM556 686h4v1h-4zM884 686h8v1h-8zM972 686h12v1h-12zM1326 686h1v1h-1zM1376 686h1v1h-1zM0 687h8v1h-8zM18 687h6v1h-6zM116 687h2v1h-2zM302 687h2v1h-2zM430 687h1v1h-1zM444 687h6v1h-6zM539 687h1v1h-1zM560 687h2v1h-2zM863 687h21v1h-21zM1327 687h2v1h-2zM1374 687h2v1h-2zM8 688h10v1h-10zM118 688h2v1h-2zM299 688h3v1h-3zM430 688h1v1h-1zM436 688h8v1h-8zM450 688h6v1h-6zM538 688h1v1h-1zM562 688h2v1h-2zM862 688h1v1h-1zM1329 688h3v1h-3zM1371 688h3v1h-3zM120 689h1v1h-1zM174 689h10v1h-10zM264 689h10v1h-10zM296 689h3v1h-3zM431 689h5v1h-5zM456 689h5v1h-5zM536 689h2v1h-2zM564 689h2v1h-2zM861 689h1v1h-1zM1332 689h4v1h-4zM1368 689h3v1h-3zM121 690h2v1h-2zM141 690h5v1h-5zM171 690h3v1h-3zM184 690h10v1h-10zM255 690h9v1h-9zM274 690h6v1h-6zM292 690h4v1h-4zM461 690h4v1h-4zM535 690h1v1h-1zM566 690h2v1h-2zM861 690h1v1h-1zM1336 690h3v1h-3zM1364 690h4v1h-4zM123 691h2v1h-2zM136 691h5v1h-5zM146 691h4v1h-4zM168 691h3v1h-3zM194 691h6v1h-6zM254 691h1v1h-1zM280 691h5v1h-5zM289 691h3v1h-3zM465 691h2v1h-2zM534 691h1v1h-1zM568 691h1v1h-1zM860 691h1v1h-1zM1339 691h3v1h-3zM1361 691h3v1h-3zM125 692h2v1h-2zM130 692h6v1h-6zM150 692h4v1h-4zM164 692h4v1h-4zM200 692h5v1h-5zM252 692h2v1h-2zM285 692h4v1h-4zM467 692h2v1h-2zM532 692h2v1h-2zM569 692h2v1h-2zM589 692h5v1h-5zM859 692h1v1h-1zM1342 692h19v1h-19zM127 693h3v1h-3zM154 693h4v1h-4zM161 693h3v1h-3zM205 693h5v1h-5zM251 693h1v1h-1zM469 693h3v1h-3zM531 693h1v1h-1zM571 693h2v1h-2zM584 693h5v1h-5zM594 693h6v1h-6zM858 693h1v1h-1zM158 694h3v1h-3zM210 694h6v1h-6zM250 694h1v1h-1zM472 694h2v1h-2zM530 694h1v1h-1zM573 694h2v1h-2zM578 694h6v1h-6zM600 694h5v1h-5zM857 694h1v1h-1zM216 695h5v1h-5zM249 695h1v1h-1zM474 695h2v1h-2zM528 695h2v1h-2zM575 695h3v1h-3zM605 695h5v1h-5zM857 695h1v1h-1zM221 696h4v1h-4zM248 696h1v1h-1zM476 696h2v1h-2zM520 696h8v1h-8zM610 696h4v1h-4zM856 696h1v1h-1zM225 697h2v1h-2zM246 697h2v1h-2zM478 697h6v1h-6zM508 697h12v1h-12zM614 697h4v1h-4zM855 697h1v1h-1zM227 698h2v1h-2zM245 698h1v1h-1zM484 698h8v1h-8zM500 698h8v1h-8zM618 698h4v1h-4zM735 698h3v1h-3zM854 698h1v1h-1zM229 699h3v1h-3zM244 699h1v1h-1zM492 699h8v1h-8zM622 699h3v1h-3zM734 699h1v1h-1zM738 699h6v1h-6zM764 699h22v1h-22zM853 699h1v1h-1zM232 700h2v1h-2zM243 700h1v1h-1zM625 700h2v1h-2zM734 700h1v1h-1zM744 700h5v1h-5zM756 700h8v1h-8zM786 700h4v1h-4zM813 700h4v1h-4zM853 700h1v1h-1zM234 701h2v1h-2zM241 701h2v1h-2zM627 701h2v1h-2zM733 701h1v1h-1zM749 701h7v1h-7zM790 701h4v1h-4zM808 701h5v1h-5zM817 701h2v1h-2zM852 701h1v1h-1zM236 702h2v1h-2zM240 702h1v1h-1zM629 702h3v1h-3zM733 702h1v1h-1zM794 702h4v1h-4zM802 702h6v1h-6zM819 702h2v1h-2zM851 702h1v1h-1zM238 703h2v1h-2zM632 703h2v1h-2zM732 703h1v1h-1zM798 703h4v1h-4zM821 703h2v1h-2zM850 703h1v1h-1zM634 704h2v1h-2zM731 704h1v1h-1zM823 704h2v1h-2zM849 704h1v1h-1zM636 705h2v1h-2zM731 705h1v1h-1zM825 705h2v1h-2zM849 705h1v1h-1zM638 706h3v1h-3zM730 706h1v1h-1zM827 706h2v1h-2zM848 706h1v1h-1zM641 707h2v1h-2zM729 707h1v1h-1zM829 707h2v1h-2zM840 707h8v1h-8zM643 708h2v1h-2zM729 708h1v1h-1zM831 708h9v1h-9zM645 709h3v1h-3zM728 709h1v1h-1zM648 710h2v1h-2zM728 710h1v1h-1zM650 711h2v1h-2zM727 711h1v1h-1zM652 712h2v1h-2zM726 712h1v1h-1zM654 713h3v1h-3zM726 713h1v1h-1zM657 714h3v1h-3zM725 714h1v1h-1zM660 715h4v1h-4zM725 715h1v1h-1zM664 716h3v1h-3zM724 716h1v1h-1zM667 717h3v1h-3zM723 717h1v1h-1zM670 718h10v1h-10zM723 718h1v1h-1zM680 719h10v1h-10zM722 719h1v1h-1zM690 720h4v1h-4zM721 720h1v1h-1zM694 721h4v1h-4zM721 721h1v1h-1zM698 722h4v1h-4zM720 722h1v1h-1zM702 723h10v1h-10zM720 723h1v1h-1zM712 724h8v1h-8z" fill="#1e90ff"/>
</g>
<rect x="0" y="30" width="1586" height="1" fill="#000"/>
<rect x="0" y="439" width="1586" height="1" fill="#000"/>
<rect x="1585" y="30" width="1" height="410" fill="#000"/>
<rect x="0" y="441" width="1586" height="1" fill="#000"/>
<rect x="0" y="603" width="1586" height="1" fill="#000"/>
<rect x="1585" y="441" width="1" height="163" fill="#000"/>
<rect x="0" y="605" width="1586" height="1" fill="#000"/>
<rect x="0" y="755" width="1586" height="1" fill="#000"/>
<rect x="1585" y="605" width="1" height="151" fill="#000"/>
<rect x="1586" y="40" width="2" height="1" fill="#000"/>
<rect x="1586" y="73" width="2" height="1" fill="#000"/>
<rect x="1586" y="106" width="2" height="1" fill="#000"/>
<rect x="1586" y="139" width="2" height="1" fill="#000"/>
<rect x="1586" y="172" width="2" height="1" fill="#000"/>
<rect x="1586" y="205" width="2" height="1" fill="#000"/>
<rect x="1586" y="238" width="2" height="1" fill="#000"/>
<rect x="1586" y="271" width="2" height="1" fill="#000"/>
<rect x="1586" y="304" width="2" height="1" fill="#000"/>
<rect x="1586" y="337" width="2" height="1" fill="#000"/>
<rect x="1586" y="370" width="2" height="1" fill="#000"/>
<rect x="1586" y="403" width="2" height="1" fill="#000"/>
<rect x="1586" y="436" width="2" height="1" fill="#000"/>
<rect x="1586" y="443" width="1" height="1" fill="#000"/>
<rect x="1586" y="473" width="2" height="1" fill="#000"/>
<rect x="1586" y="602" width="1" height="1" fill="#000"/>
<rect x="1586" y="607" width="1" height="1" fill="#000"/>
<rect x="1586" y="636" width="1" height="1" fill="#000"/>
<rect x="1586" y="680" width="1" height="1" fill="#000"/>
<rect x="1586" y="732" width="1" height="1" fill="#000"/>
<rect x="1586" y="754" width="1" height="1" fill="#000"/>
<rect x="-1" y="756" width="1" height="3" fill="#000"/>
<rect x="63" y="756" width="1" height="3" fill="#000"/>
<rect x="127" y="756" width="1" height="3" fill="#000"/>
<rect x="191" y="756" width="1" height="3" fill="#000"/>
<rect x="255" y="756" width="1" height="3" fill="#000"/>
<rect x="319" y="756" width="1" height="3" fill="#000"/>
<rect x="383" y="756" width="1" height="3" fill="#000"/>
<rect x="447" y="756" width="1" height="3" fill="#000"/>
<rect x="511" y="756" width="1" height="3" fill="#000"/>
<rect x="575" y="756" width="1" height="3" fill="#000"/>
<rect x="639" y="756" width="1" height="3" fill="#000"/>
<rect x="703" y="756" width="1" height="3" fill="#000"/>
<rect x="767" y="756" width="1" height="3" fill="#000"/>
<rect x="831" y="756" width="1" height="3" fill="#000"/>
<rect x="895" y="756" width="1" height="3" fill="#000"/>
<rect x="959" y="756" width="1" height="3" fill="#000"/>
<rect x="1023" y="756" width="1" height="3" fill="#000"/>
<rect x="1087" y="756" width="1" height="3" fill="#000"/>
<rect x="1151" y="756" width="1" height="3" fill="#000"/>
<rect x="1215" y="756" width="1" height="3" fill="#000"/>
<rect x="1279" y="756" width="1" height="3" fill="#000"/>
<rect x="1343" y="756" width="1" height="3" fill="#000"/>
<rect x="1407" y="756" width="1" height="3" fill="#000"/>
</svg>
<div id="labels">
<span class="ax" style="left:1591px;top:36px">22876.0</span>
<span class="ax" style="left:1591px;top:69px">22536.0</span>
<span class="ax" style="left:1591px;top:102px">22186.0</span>
<span class="ax" style="left:1591px;top:135px">21846.0</span>
<span class="ax" style="left:1591px;top:168px">21506.0</span>
<span class="ax" style="left:1591px;top:234px">20816.0</span>
<span class="ax" style="left:1591px;top:267px">20476.0</span>
<span class="ax" style="left:1591px;top:300px">20136.0</span>
<span class="ax" style="left:1591px;top:333px">19786.0</span>
<span class="ax" style="left:1591px;top:366px">19446.0</span>
<span class="ax" style="left:1591px;top:399px">19106.0</span>
<span class="ax" style="left:1591px;top:432px">18766.0</span>
<div class="pl" style="top:155px;background:#ff4500"><span>21618.1</span></div>
<div class="pl" style="top:179px;background:#ff4500"><span>21365.8</span></div>
<div class="pl" style="top:202px;background:#000"><span>21137.5</span></div>
<div class="pl" style="top:220px;background:#32cd32"><span>20947.8</span></div>
<div class="pl" style="top:239px;background:#0000ff"><span>20742.4</span></div>
<div class="pl" style="top:258px;background:#0000ff"><span>20549.4</span></div>
<span class="ax" style="left:1588.5px;top:444px">151.88</span>
<span class="ax" style="left:1588.5px;top:469px">0.00</span>
<span class="ax" style="left:1588.5px;top:592px">-637.84</span>
<span class="ax" style="left:1588.5px;top:608px">100</span>
<span class="ax" style="left:1588.5px;top:632px">80</span>
<span class="ax" style="left:1588.5px;top:676px">50</span>
<span class="ax" style="left:1588.5px;top:728px">15</span>
<span class="ax" style="left:1588.5px;top:744px">0</span>
<span class="ax dt" style="left:-2px;top:760px;transform:scaleX(0.937)">2 Nov 2018</span>
<span class="ax dt" style="left:62px;top:760px;transform:scaleX(0.937)">7 Nov 2018</span>
<span class="ax dt" style="left:126px;top:760px;transform:scaleX(0.928)">12 Nov 2018</span>
<span class="ax dt" style="left:190px;top:760px;transform:scaleX(0.928)">16 Nov 2018</span>
<span class="ax dt" style="left:254px;top:760px;transform:scaleX(0.928)">21 Nov 2018</span>
<span class="ax dt" style="left:318px;top:760px;transform:scaleX(0.928)">26 Nov 2018</span>
<span class="ax dt" style="left:382px;top:760px;transform:scaleX(0.928)">30 Nov 2018</span>
<span class="ax dt" style="left:446px;top:760px;transform:scaleX(0.902)">5 Dec 2018</span>
<span class="ax dt" style="left:510px;top:760px;transform:scaleX(0.885)">10 Dec 2018</span>
<span class="ax dt" style="left:574px;top:760px;transform:scaleX(0.885)">14 Dec 2018</span>
<span class="ax dt" style="left:638px;top:760px;transform:scaleX(0.885)">19 Dec 2018</span>
<span class="ax dt" style="left:702px;top:760px;transform:scaleX(0.885)">24 Dec 2018</span>
<span class="ax dt" style="left:766px;top:760px;transform:scaleX(0.885)">28 Dec 2018</span>
<span class="ax dt" style="left:830px;top:760px;transform:scaleX(0.894)">2 Jan 2019</span>
<span class="ax dt" style="left:894px;top:760px;transform:scaleX(0.894)">7 Jan 2019</span>
<span class="ax dt" style="left:958px;top:760px;transform:scaleX(0.879)">11 Jan 2019</span>
<span class="ax dt" style="left:1022px;top:760px;transform:scaleX(0.879)">16 Jan 2019</span>
<span class="ax dt" style="left:1086px;top:760px;transform:scaleX(0.879)">21 Jan 2019</span>
<span class="ax dt" style="left:1150px;top:760px;transform:scaleX(0.879)">25 Jan 2019</span>
<span class="ax dt" style="left:1214px;top:760px;transform:scaleX(0.879)">30 Jan 2019</span>
<span class="ax dt" style="left:1278px;top:760px;transform:scaleX(0.908)">4 Feb 2019</span>
<span class="ax dt" style="left:1342px;top:760px;transform:scaleX(0.908)">8 Feb 2019</span>
<span class="ax dt" style="left:1406px;top:760px;transform:scaleX(0.895)">13 Feb 2019</span>
<span class="ax t1" style="left:13.6px;top:34px">JPN225-,Daily&nbsp; 20992.5 21177.5 20952.5 21137.5</span>
<span class="ax t2" style="left:3px;top:446px">MACD(12,26,9) 67.97 63.27</span>
<span class="ax t2" style="left:3px;top:610px">RSI(14) 61.3039</span>
<span class="note" style="left:1115.4px;top:215.2px"><span class="nc">多空转折点</span><span class="nd">20947</span></span>
</div>
<div id="panel">
<div class="pbg"></div>
<svg width="224" height="90" viewBox="0 28 224 90" style="position:absolute;left:0;top:28px" shape-rendering="crispEdges">
<defs><linearGradient id="rg" gradientUnits="userSpaceOnUse" x1="0" y1="50" x2="0" y2="114"><stop offset="0" stop-color="#fb5252"/><stop offset="0.36" stop-color="#e13434"/><stop offset="0.6" stop-color="#cc2020"/><stop offset="1" stop-color="#ae0000"/></linearGradient><linearGradient id="rg2" gradientUnits="userSpaceOnUse" x1="0" y1="-55.6" x2="0" y2="8.4"><stop offset="0" stop-color="#fb5252"/><stop offset="0.36" stop-color="#e13434"/><stop offset="0.6" stop-color="#cc2020"/><stop offset="1" stop-color="#ae0000"/></linearGradient></defs>
<path d="M2.5 50.5 L53.5 50.5 L53.5 74.5 L110.5 74.5 L110.5 113.5 L2.5 113.5 Z" fill="url(#rg)" stroke="#b80000" stroke-width="1"/>
<path d="M220.5 50.5 L169.5 50.5 L169.5 74.5 L113.5 74.5 L113.5 113.5 L220.5 113.5 Z" fill="url(#rg)" stroke="#b80000" stroke-width="1"/>
<rect x="6" y="73" width="44" height="1" fill="#8b0000"/><rect x="6" y="74" width="44" height="1" fill="#ff6a6a"/>
<rect x="173" y="73" width="44" height="1" fill="#8b0000"/><rect x="173" y="74" width="44" height="1" fill="#ff6a6a"/>
<rect x="56.5" y="50.5" width="110" height="21" fill="#fff" stroke="#a4a8b0" stroke-width="1"/>
<rect x="57" y="51" width="20" height="20" fill="#e9e9e9"/><rect x="77" y="51" width="1" height="20" fill="#a4a8b0"/>
<rect x="146" y="51" width="20" height="20" fill="#e9e9e9"/><rect x="145" y="51" width="1" height="20" fill="#a4a8b0"/>
<g fill="#000"><rect x="64" y="59" width="5" height="1"/><rect x="65" y="60" width="3" height="1"/><rect x="66" y="61" width="1" height="1"/>
<rect x="155" y="59" width="1" height="1"/><rect x="154" y="60" width="3" height="1"/><rect x="153" y="61" width="5" height="1"/></g>
<g fill="#000"><rect x="5" y="38" width="1" height="1"/><rect x="4" y="39" width="3" height="1"/><rect x="3" y="40" width="5" height="1"/><rect x="2" y="41" width="7" height="1"/></g>
<text transform="translate(63.2 105.6) scale(0.92 1)" font-family="Liberation Sans, sans-serif" font-size="36.7" fill="#fff" stroke="url(#rg2)" stroke-width="0.55" shape-rendering="auto" text-rendering="geometricPrecision">0</text>
<text transform="translate(173.6 105.6) scale(0.92 1)" font-family="Liberation Sans, sans-serif" font-size="36.7" fill="#fff" stroke="url(#rg2)" stroke-width="0.55" shape-rendering="auto" text-rendering="geometricPrecision">0</text>
</svg>
<span class="pt" style="left:13.5px;top:55px">SELL</span>
<span class="pt" style="left:182px;top:55px;letter-spacing:-0.4px">BUY</span>
<span class="pv" style="left:96px;top:54px;width:46.9px">0.10</span>
<span class="ps" style="left:17.9px;top:94px">21136</span>
<span class="pd" style="left:55.6px;top:79px">.</span>
<span class="ps" style="left:127.7px;top:94px">21159</span>
<span class="pd" style="left:165.8px;top:79px">.</span>
</div>
<div id="toolbar"><div class="bg"></div><div class="l1"></div><div class="l2"></div>
<svg width="1627" height="30" viewBox="0 0 1627 30">
<defs>
<pattern id="chk" width="2" height="2" patternUnits="userSpaceOnUse"><rect width="2" height="2" fill="#f0f0f0"/><rect width="1" height="1" fill="#fff"/><rect x="1" y="1" width="1" height="1" fill="#fff"/></pattern>
<linearGradient id="gold" x1="0" y1="0" x2="1" y2="1"><stop offset="0" stop-color="#ffe45c"/><stop offset="0.5" stop-color="#f0b818"/><stop offset="1" stop-color="#b87408"/></linearGradient>
<linearGradient id="grn" x1="0" y1="0" x2="0" y2="1"><stop offset="0" stop-color="#7dff7d"/><stop offset="1" stop-color="#00b400"/></linearGradient>
<linearGradient id="grn2" x1="0" y1="0" x2="1" y2="0"><stop offset="0" stop-color="#18c018"/><stop offset="0.5" stop-color="#70f070"/><stop offset="1" stop-color="#10b010"/></linearGradient>
<linearGradient id="blu" x1="0" y1="0" x2="0" y2="1"><stop offset="0" stop-color="#3aa0ff"/><stop offset="1" stop-color="#0a68d8"/></linearGradient>
<linearGradient id="cloud" x1="0" y1="0" x2="0" y2="1"><stop offset="0" stop-color="#ffffff"/><stop offset="1" stop-color="#b8c8e8"/></linearGradient>
<radialGradient id="lens" cx="0.4" cy="0.35" r="0.7"><stop offset="0" stop-color="#f4fbff"/><stop offset="1" stop-color="#bfe0f6"/></radialGradient>
<radialGradient id="clk" cx="0.5" cy="0.4" r="0.6"><stop offset="0" stop-color="#ffffff"/><stop offset="1" stop-color="#d8e4f0"/></radialGradient>
<linearGradient id="hat" x1="0" y1="0" x2="0" y2="1"><stop offset="0" stop-color="#8ed0f0"/><stop offset="1" stop-color="#3890c8"/></linearGradient>
<linearGradient id="face" x1="0" y1="0" x2="1" y2="1"><stop offset="0" stop-color="#fff080"/><stop offset="1" stop-color="#e8a810"/></linearGradient>
<linearGradient id="bub" x1="0" y1="0" x2="0" y2="1"><stop offset="0" stop-color="#ffffff"/><stop offset="1" stop-color="#d4d8e4"/></linearGradient>
<linearGradient id="sig" x1="0" y1="0" x2="1" y2="0"><stop offset="0" stop-color="#3a6fd8"/><stop offset="0.5" stop-color="#5a90c8"/><stop offset="1" stop-color="#50a850"/></linearGradient>
</defs>
<path d="M28.5 7 L38.6 14.6 L38.8 16.3 L30.8 21.7 L23 16 C25.5 13.6 27.5 10.6 28.5 7 Z" fill="#d49a18" stroke="#a06408" stroke-width="0.9" stroke-linejoin="round"/>
<path d="M31 19.7 L38.1 14.9 L38.5 16.2 L31 21.3 Z" fill="#e6d8a4"/>
<path d="M28.8 8 L37.6 14.6 L31.2 19 L24.6 15.2 C26.6 13.2 28 10.6 28.8 8 Z" fill="url(#gold)"/>
<path d="M24.4 15.4 L31.1 19.3" fill="none" stroke="#fff0a8" stroke-width="0.9" opacity="0.9"/>
<path d="M23.6 16.6 L30.8 20.9" fill="none" stroke="#b87810" stroke-width="1"/>
<path d="M53 7 L56.5 6.1 L64 7.4 L64 16.5 L53 16.5 Z" fill="url(#blu)"/>
<path d="M53 7 L56.4 8.4 L56.4 16.5 L53 16.5 Z" fill="#22a2ff"/>
<path d="M53 7 L56.5 6.1 L64 7.4 L56.4 8.4 Z" fill="#5cc0ff"/>
<path d="M56.4 8.4 L56.4 15" stroke="#d8f0ff" stroke-width="0.6"/>
<rect x="58" y="10.6" width="4.7" height="1.3" fill="#e4f2ff"/>
<path d="M53.6 21.4 C50.4 21.4 50 17.2 53.2 16.8 C53.4 14.4 56.6 13.8 57.8 15.4 C59.2 13 63.4 13.8 63.2 16.6 C66.8 16 67.8 21.4 64.4 21.4 Z" fill="url(#cloud)" stroke="#40609c" stroke-width="1.1"/>
<g fill="none" stroke="url(#sig)" stroke-width="1.1"><circle cx="87" cy="14" r="7.3" opacity="0.6"/><circle cx="87" cy="14" r="4.6" opacity="0.6"/></g>
<path d="M87.3 14 L87.30 6.10 A7.9 7.9 0 0 1 92.89 8.41 Z" fill="#3ea03e" opacity="0.12"/>
<path d="M87.3 14 L92.89 8.41 A7.9 7.9 0 0 1 95.20 14.00 Z" fill="#3ea03e" opacity="0.28"/>
<path d="M87.3 14 L95.20 14.00 A7.9 7.9 0 0 1 92.89 19.59 Z" fill="#3ea03e" opacity="0.5"/>
<path d="M87.3 14 L92.89 19.59 A7.9 7.9 0 0 1 87.30 21.90 Z" fill="#3ea03e" opacity="0.72"/>
<circle cx="86.8" cy="13.4" r="1.9" fill="#2a5cd0"/>
<rect x="87" y="14" width="1.3" height="7.7" fill="#1ea01e"/>
<path d="M106.4 12.6 L121.6 12 L120.2 15.4 L113.4 21.6 L108.4 17 Z" fill="url(#face)" stroke="#c09010" stroke-width="0.7" stroke-linejoin="round"/>
<path d="M106 10.6 C106 8.6 109 9.4 110.4 9 C111 6.4 116.6 5.8 117.6 8.6 C119.4 8.4 122.4 7.8 122 9.6 C121.4 12 117 13 113.6 13 C110 13 106.2 12.6 106 10.6 Z" fill="url(#hat)" stroke="#2a80b0" stroke-width="0.7"/>
<path d="M110.6 9.6 C112.6 10.8 115.6 10.6 117.4 9.2" fill="none" stroke="#2a80b0" stroke-width="0.6" opacity="0.8"/>
<circle cx="118.6" cy="17.7" r="3.9" fill="#e02810" stroke="#b41400" stroke-width="0.7"/>
<rect x="117.2" y="16.3" width="2.8" height="2.8" fill="#fff"/>
<rect x="182" y="1" width="1" height="25" fill="#a0a0a0" shape-rendering="crispEdges"/><rect x="183" y="1" width="1" height="25" fill="#fff" shape-rendering="crispEdges"/>
<rect x="186" y="4" width="3" height="1" fill="#a0a0a0" shape-rendering="crispEdges"/>
<rect x="186" y="6" width="3" height="1" fill="#a0a0a0" shape-rendering="crispEdges"/>
<rect x="186" y="8" width="3" height="1" fill="#a0a0a0" shape-rendering="crispEdges"/>
<rect x="186" y="10" width="3" height="1" fill="#a0a0a0" shape-rendering="crispEdges"/>
<rect x="186" y="12" width="3" height="1" fill="#a0a0a0" shape-rendering="crispEdges"/>
<rect x="186" y="14" width="3" height="1" fill="#a0a0a0" shape-rendering="crispEdges"/>
<rect x="186" y="16" width="3" height="1" fill="#a0a0a0" shape-rendering="crispEdges"/>
<rect x="186" y="18" width="3" height="1" fill="#a0a0a0" shape-rendering="crispEdges"/>
<rect x="186" y="20" width="3" height="1" fill="#a0a0a0" shape-rendering="crispEdges"/>
<rect x="186" y="22" width="3" height="1" fill="#a0a0a0" shape-rendering="crispEdges"/>
<g fill="#585858" shape-rendering="crispEdges"><rect x="200" y="8" width="1" height="14"/><rect x="198" y="19" width="14" height="1"/><rect x="199" y="9" width="3" height="1"/><rect x="210" y="18" width="1" height="3"/></g>
<g fill="#109010" shape-rendering="crispEdges"><rect x="206" y="9" width="1" height="9"/><rect x="204" y="16" width="2" height="1"/><rect x="207" y="10" width="2" height="1"/></g>
<g shape-rendering="crispEdges"><rect x="220" y="2" width="25" height="22" fill="url(#chk)"/><rect x="220" y="2" width="25" height="1" fill="#a0a0a0"/><rect x="220" y="2" width="1" height="22" fill="#a0a0a0"/><rect x="220" y="24" width="26" height="1" fill="#fff"/><rect x="245" y="2" width="1" height="23" fill="#fff"/></g>
<g fill="#585858" shape-rendering="crispEdges"><rect x="228" y="8" width="1" height="14"/><rect x="226" y="19" width="14" height="1"/><rect x="227" y="9" width="3" height="1"/><rect x="238" y="18" width="1" height="3"/></g>
<g shape-rendering="crispEdges"><rect x="234" y="6" width="1" height="12" fill="#109010"/></g><rect x="232.5" y="8.5" width="4" height="7" fill="url(#grn2)" stroke="#109010" stroke-width="1"/>
<g fill="#585858" shape-rendering="crispEdges"><rect x="256" y="8" width="1" height="14"/><rect x="254" y="19" width="14" height="1"/><rect x="255" y="9" width="3" height="1"/><rect x="266" y="18" width="1" height="3"/></g>
<path d="M255 16.5 C258 14 259.5 11 261.5 11.2 C263.5 11.6 265 14.6 267.5 15" fill="none" stroke="#209020" stroke-width="1.1"/>
<rect x="277" y="3" width="1" height="21" fill="#a0a0a0" shape-rendering="crispEdges"/>
<path d="M296.2 16.2 L300.6 20.6" stroke="#a87408" stroke-width="3.2" stroke-linecap="round"/>
<path d="M296.4 16.2 L300.5 20.3" stroke="#f2d648" stroke-width="1.7" stroke-linecap="round"/>
<circle cx="292" cy="12" r="5.5" fill="url(#lens)" stroke="#3a78c0" stroke-width="1.3"/>
<rect x="288.8" y="11" width="6.4" height="2" fill="#4088b4"/>
<rect x="291" y="8.8" width="2" height="6.4" fill="#4088b4"/>
<path d="M324.2 16.2 L328.6 20.6" stroke="#a87408" stroke-width="3.2" stroke-linecap="round"/>
<path d="M324.4 16.2 L328.5 20.3" stroke="#f2d648" stroke-width="1.7" stroke-linecap="round"/>
<circle cx="320" cy="12" r="5.5" fill="url(#lens)" stroke="#3a78c0" stroke-width="1.3"/>
<rect x="316.8" y="11" width="6.4" height="2" fill="#4088b4"/>
<defs><linearGradient id="tg" x1="0" y1="0" x2="1" y2="1"><stop offset="0" stop-color="#58b838"/><stop offset="1" stop-color="#288808"/></linearGradient><linearGradient id="tb" x1="0" y1="0" x2="1" y2="1"><stop offset="0" stop-color="#4078f0"/><stop offset="1" stop-color="#0828a8"/></linearGradient></defs>
<rect x="342" y="6" width="8" height="8" fill="url(#tg)"/>
<rect x="343" y="7" width="1" height="1" fill="#fff" opacity="0.9"/>
<path d="M343.2 13 L343.2 9.8 Q343.2 9 344 9 L348 9 Q348.8 9 348.8 9.8 L348.8 13 L347.8 13 L347.8 12.2 L344.2 12.2 L344.2 13 Z" fill="#fff"/>
<rect x="344.4" y="10.2" width="3.2" height="0.9" fill="#70c050"/>
<rect x="350" y="6" width="8" height="8" fill="url(#tb)"/>
<rect x="351" y="7" width="1" height="1" fill="#fff" opacity="0.9"/>
<path d="M351.2 13 L351.2 9.8 Q351.2 9 352 9 L356 9 Q356.8 9 356.8 9.8 L356.8 13 L355.8 13 L355.8 12.2 L352.2 12.2 L352.2 13 Z" fill="#fff"/>
<rect x="352.4" y="10.2" width="3.2" height="0.9" fill="#6088f0"/>
<rect x="342" y="14" width="8" height="8" fill="url(#tb)"/>
<rect x="343" y="15" width="1" height="1" fill="#fff" opacity="0.9"/>
<path d="M343.2 21 L343.2 17.8 Q343.2 17 344 17 L348 17 Q348.8 17 348.8 17.8 L348.8 21 L347.8 21 L347.8 20.2 L344.2 20.2 L344.2 21 Z" fill="#fff"/>
<rect x="344.4" y="18.2" width="3.2" height="0.9" fill="#6088f0"/>
<rect x="350" y="14" width="8" height="8" fill="url(#tg)"/>
<rect x="351" y="15" width="1" height="1" fill="#fff" opacity="0.9"/>
<path d="M351.2 21 L351.2 17.8 Q351.2 17 352 17 L356 17 Q356.8 17 356.8 17.8 L356.8 21 L355.8 21 L355.8 20.2 L352.2 20.2 L352.2 21 Z" fill="#fff"/>
<rect x="352.4" y="18.2" width="3.2" height="0.9" fill="#70c050"/>
<rect x="367" y="3" width="1" height="21" fill="#a0a0a0" shape-rendering="crispEdges"/>
<g shape-rendering="crispEdges"><rect x="372" y="2" width="25" height="22" fill="url(#chk)"/><rect x="372" y="2" width="25" height="1" fill="#a0a0a0"/><rect x="372" y="2" width="1" height="22" fill="#a0a0a0"/><rect x="372" y="24" width="26" height="1" fill="#fff"/><rect x="397" y="2" width="1" height="23" fill="#fff"/></g>
<g fill="#585858" shape-rendering="crispEdges"><rect x="380" y="8" width="1" height="14"/><rect x="378" y="19" width="14" height="1"/><rect x="379" y="9" width="3" height="1"/><rect x="390" y="18" width="1" height="3"/></g>
<path d="M385.5 10.3 L389.2 13.5 L385.5 16.7 Z" fill="#58d058" stroke="#109010" stroke-width="1"/>
<g shape-rendering="crispEdges"><rect x="400" y="2" width="25" height="22" fill="url(#chk)"/><rect x="400" y="2" width="25" height="1" fill="#a0a0a0"/><rect x="400" y="2" width="1" height="22" fill="#a0a0a0"/><rect x="400" y="24" width="26" height="1" fill="#fff"/><rect x="425" y="2" width="1" height="23" fill="#fff"/></g>
<g fill="#585858" shape-rendering="crispEdges"><rect x="408" y="8" width="1" height="14"/><rect x="406" y="19" width="14" height="1"/><rect x="407" y="9" width="3" height="1"/><rect x="418" y="18" width="1" height="3"/></g>
<rect x="414" y="8" width="1" height="10" fill="#1868a8" shape-rendering="crispEdges"/>
<path d="M415.3 13.5 L418.2 11.2 L417.6 13 L420 13 L420 14 L417.6 14 L418.2 15.8 Z" fill="#d04000" stroke="#d04000" stroke-width="0.4"/>
<rect x="429" y="3" width="1" height="21" fill="#a0a0a0" shape-rendering="crispEdges"/>
<path d="M439.5 6.5 L446.6 6.5 L450.5 10.2 L450.5 19.5 L439.5 19.5 Z" fill="#fcfcfc" stroke="#8c8c8c" stroke-width="1"/>
<path d="M446.6 6.5 L446.6 10.2 L450.5 10.2" fill="#e4e4e4" stroke="#8c8c8c" stroke-width="0.8"/>
<path d="M444.4 9 C442.6 8.8 442.6 10.4 442.6 11.4 L442.6 16.6 M441.4 12 L444 12" fill="none" stroke="#505050" stroke-width="0.9"/>
<path d="M447.2 12.3 L450.8 12.3 L450.8 16.3 L454.8 16.3 L454.8 19.9 L450.8 19.9 L450.8 23.9 L447.2 23.9 L447.2 19.9 L443.2 19.9 L443.2 16.3 L447.2 16.3 Z" fill="url(#grn)" stroke="#0a8a0a" stroke-width="0.9"/>
<path d="M460.5 13 L466.5 13 L463.5 16.3 Z" fill="#000"/>
<defs><linearGradient id="ring" x1="0" y1="0" x2="0.3" y2="1"><stop offset="0" stop-color="#3a94f0"/><stop offset="1" stop-color="#0a4cb0"/></linearGradient></defs>
<circle cx="485" cy="14" r="6.8" fill="url(#clk)" stroke="url(#ring)" stroke-width="2.5"/>
<path d="M484.9 10.4 L484.9 14 L487.8 14.8" fill="none" stroke="#202020" stroke-width="1.1"/>
<g fill="#707070"><rect x="484.6" y="9" width="0.8" height="0.9"/><rect x="484.4" y="17.8" width="1.2" height="0.9" fill="#5090e0"/><rect x="480.4" y="13.6" width="0.9" height="0.8"/><rect x="488.8" y="13.6" width="0.9" height="0.8"/><rect x="481.6" y="10.6" width="0.7" height="0.7"/><rect x="487.8" y="10.6" width="0.7" height="0.7"/><rect x="481.6" y="16.8" width="0.7" height="0.7"/><rect x="487.8" y="16.8" width="0.7" height="0.7"/></g>
<path d="M499.5 13 L505.5 13 L502.5 16.3 Z" fill="#000"/>
<rect x="516.5" y="7.5" width="15" height="13" fill="#fff" stroke="#2868c0" stroke-width="1"/>
<rect x="517" y="8" width="14" height="1.6" fill="#4a90e0"/>
<rect x="517" y="14" width="14" height="1" fill="#4a90e0" opacity="0.8"/>
<path d="M518.5 13 L520.5 13 L522 11.6 L524 11.6 L525.5 12.6 L527.5 12.6 L529 11.4 L530 11.4" fill="none" stroke="#a82000" stroke-width="1.1"/>
<path d="M519.5 18.4 L521.5 17.4 L523.5 18.4 L526.5 16.2 L529.5 18.6" fill="none" stroke="#189018" stroke-width="1.1"/>
<path d="M538.5 13 L544.5 13 L541.5 16.3 Z" fill="#000"/>
<rect x="550" y="1" width="1" height="25" fill="#a0a0a0" shape-rendering="crispEdges"/><rect x="551" y="1" width="1" height="25" fill="#fff" shape-rendering="crispEdges"/>
<rect x="554" y="4" width="3" height="1" fill="#a0a0a0" shape-rendering="crispEdges"/>
<rect x="554" y="6" width="3" height="1" fill="#a0a0a0" shape-rendering="crispEdges"/>
<rect x="554" y="8" width="3" height="1" fill="#a0a0a0" shape-rendering="crispEdges"/>
<rect x="554" y="10" width="3" height="1" fill="#a0a0a0" shape-rendering="crispEdges"/>
<rect x="554" y="12" width="3" height="1" fill="#a0a0a0" shape-rendering="crispEdges"/>
<rect x="554" y="14" width="3" height="1" fill="#a0a0a0" shape-rendering="crispEdges"/>
<rect x="554" y="16" width="3" height="1" fill="#a0a0a0" shape-rendering="crispEdges"/>
<rect x="554" y="18" width="3" height="1" fill="#a0a0a0" shape-rendering="crispEdges"/>
<rect x="554" y="20" width="3" height="1" fill="#a0a0a0" shape-rendering="crispEdges"/>
<rect x="554" y="22" width="3" height="1" fill="#a0a0a0" shape-rendering="crispEdges"/>
<g shape-rendering="crispEdges"><rect x="560" y="2" width="25" height="22" fill="url(#chk)"/><rect x="560" y="2" width="25" height="1" fill="#a0a0a0"/><rect x="560" y="2" width="1" height="22" fill="#a0a0a0"/><rect x="560" y="24" width="26" height="1" fill="#fff"/><rect x="585" y="2" width="1" height="23" fill="#fff"/></g>
<path d="M568 7 L568 18 L570.6 15.6 L573 21 L575 20 L572.6 14.8 L576 14.6 Z" fill="#505050"/>
<g fill="#505050" shape-rendering="crispEdges"><rect x="600" y="7" width="1" height="6"/><rect x="600" y="16" width="1" height="6"/><rect x="593" y="14" width="6" height="1"/><rect x="602" y="14" width="6" height="1"/></g>
<rect x="617" y="3" width="1" height="21" fill="#a0a0a0" shape-rendering="crispEdges"/>
<g fill="#505050" shape-rendering="crispEdges"><rect x="634" y="8" width="1" height="13"/><rect x="657" y="14" width="12" height="1"/></g>
<path d="M685 21 L697 9" stroke="#505050" stroke-width="1.1"/>
<g fill="none"><path d="M710.7 15.5 L718.8 8.1 M716 20.6 L725.3 12.1" stroke="#707070" stroke-width="0.9" stroke-dasharray="1.2 0.5"/><path d="M712 19.2 L713.3 20.2 L713.5 13.6 L716.3 17.4 L716.6 12.4 L719.3 16.4 L719.6 10.2 L722.3 12.6 L722.5 5.9 L723 11 L724.8 12.4" stroke="#404040" stroke-width="1.25" stroke-linejoin="round"/></g>
<line x1="740" y1="7.5" x2="753" y2="7.5" stroke="#505050" stroke-width="1" stroke-dasharray="1 1" shape-rendering="crispEdges"/>
<line x1="740" y1="10.5" x2="753" y2="10.5" stroke="#505050" stroke-width="1" stroke-dasharray="1 1" shape-rendering="crispEdges"/>
<line x1="740" y1="14.5" x2="753" y2="14.5" stroke="#505050" stroke-width="1" stroke-dasharray="1 1" shape-rendering="crispEdges"/>
<line x1="740" y1="18.5" x2="749" y2="18.5" stroke="#505050" stroke-width="1" stroke-dasharray="1 1" shape-rendering="crispEdges"/>
<rect x="797.5" y="8.5" width="11" height="12" fill="none" stroke="#505050" stroke-width="1" stroke-dasharray="1 1" shape-rendering="crispEdges"/>
<rect x="796" y="7" width="2" height="1" fill="#505050"/>
<path d="M824 11.4 L828 7.6 L832 11.4 L830.4 12.8 L825.6 12.8 Z M831 16.9 L832.8 15.6 L837.2 15.6 L839 16.9 L835 20.8 Z" fill="#505050"/>
<path d="M826.5 14.6 L828.8 17 L833 12" fill="none" stroke="#505050" stroke-width="1.3"/>
<path d="M844.5 13 L850.5 13 L847.5 16.3 Z" fill="#000"/>
<rect x="856" y="1" width="1" height="25" fill="#a0a0a0" shape-rendering="crispEdges"/><rect x="857" y="1" width="1" height="25" fill="#fff" shape-rendering="crispEdges"/>
<rect x="860" y="4" width="3" height="1" fill="#a0a0a0" shape-rendering="crispEdges"/>
<rect x="860" y="6" width="3" height="1" fill="#a0a0a0" shape-rendering="crispEdges"/>
<rect x="860" y="8" width="3" height="1" fill="#a0a0a0" shape-rendering="crispEdges"/>
<rect x="860" y="10" width="3" height="1" fill="#a0a0a0" shape-rendering="crispEdges"/>
<rect x="860" y="12" width="3" height="1" fill="#a0a0a0" shape-rendering="crispEdges"/>
<rect x="860" y="14" width="3" height="1" fill="#a0a0a0" shape-rendering="crispEdges"/>
<rect x="860" y="16" width="3" height="1" fill="#a0a0a0" shape-rendering="crispEdges"/>
<rect x="860" y="18" width="3" height="1" fill="#a0a0a0" shape-rendering="crispEdges"/>
<rect x="860" y="20" width="3" height="1" fill="#a0a0a0" shape-rendering="crispEdges"/>
<rect x="860" y="22" width="3" height="1" fill="#a0a0a0" shape-rendering="crispEdges"/>
<g shape-rendering="crispEdges"><rect x="1034" y="2" width="25" height="22" fill="url(#chk)"/><rect x="1034" y="2" width="25" height="1" fill="#a0a0a0"/><rect x="1034" y="2" width="1" height="22" fill="#a0a0a0"/><rect x="1034" y="24" width="26" height="1" fill="#fff"/><rect x="1059" y="2" width="1" height="23" fill="#fff"/></g>
<rect x="1117" y="1" width="1" height="25" fill="#a0a0a0" shape-rendering="crispEdges"/><rect x="1118" y="1" width="1" height="25" fill="#fff" shape-rendering="crispEdges"/>
<circle cx="1587.6" cy="11.4" r="4" fill="none" stroke="#2a5cd0" stroke-width="1.3"/>
<path d="M1584.6 14.4 L1580.4 18.6" stroke="#2a5cd0" stroke-width="2.2" stroke-linecap="round"/>
<path d="M1620.5 6 C1625 6 1627.5 8.4 1627.5 11 C1627.5 13.4 1625.6 15 1623.6 15.5 L1624 17.6 L1621.6 15.8 C1616.5 16 1613.6 13.6 1613.6 11 C1613.6 8.4 1616 6 1620.5 6 Z" fill="url(#bub)" stroke="#909090" stroke-width="0.9"/>
<path d="M1611.4 11.2 C1614.6 11.2 1616.6 13 1616.6 15 C1616.6 17 1614.6 18.8 1611.4 18.8 L1609 18.7 L1608.2 20.8 L1607.8 18.2 C1606.6 17.6 1606 16.4 1606 15 C1606 13 1608 11.2 1611.4 11.2 Z" fill="url(#bub)" stroke="#909090" stroke-width="0.9"/>
</svg>
<span class="cn" style="left:-1.5px">单</span>
<span class="cn" style="left:126.5px">自动交易</span>
<span class="tb" style="left:721.6px;top:17px;font-weight:bold;font-size:7.5px;line-height:8px;color:#303030">E</span>
<span class="tb" style="left:749.6px;top:17px;font-weight:bold;font-size:7.5px;line-height:8px;color:#303030">F</span>
<span class="tb" style="left:771.2px;top:7.6px;font-size:12.2px;line-height:14px;color:#505050;-webkit-text-stroke-width:0.35px">A</span>
<span class="tb" style="left:799.3px;top:9.7px;font-size:10.4px;line-height:12px;color:#505050;font-weight:bold;transform:scaleX(1.2);-webkit-text-stroke-width:0.2px">T</span>
<span class="tb" style="left:871.1px">M1</span>
<span class="tb" style="left:899.1px">M5</span>
<span class="tb" style="left:925.3px">M15</span>
<span class="tb" style="left:953.3px">M30</span>
<span class="tb" style="left:984.2px">H1</span>
<span class="tb" style="left:1011px">H4</span>
<span class="tb" style="left:1040.2px">D1</span>
<span class="tb" style="left:1067.6px">W1</span>
<span class="tb" style="left:1094px">MN</span>
</div>
</body>
</html>
